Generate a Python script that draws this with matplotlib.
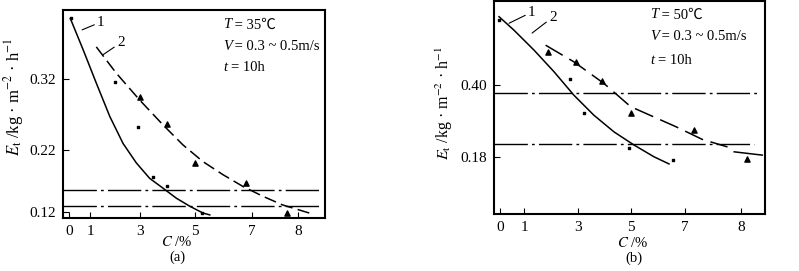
import numpy as np
import matplotlib
matplotlib.use("Agg")
import matplotlib.pyplot as plt

plt.rcParams['font.family'] = ['Liberation Serif', 'Noto Sans CJK SC', 'DejaVu Sans']
plt.rcParams['mathtext.fontset'] = 'stix'

# ---- данные, панель (a): T = 35 C ----
a_c1 = [0.06, 0.67, 1.25, 1.79, 2.32, 2.85, 3.35, 3.84, 4.32, 4.81, 5.28, 5.52]
a_e1 = [0.405, 0.361, 0.314, 0.267, 0.229, 0.199, 0.174, 0.158, 0.142, 0.129, 0.118, 0.115]
a_c2 = [1.25, 2.05, 2.99, 3.84, 4.56, 5.28, 5.98, 6.68, 7.24, 7.67, 8.25]
a_e2 = [0.365, 0.328, 0.290, 0.255, 0.227, 0.201, 0.180, 0.161, 0.145, 0.131, 0.118]
a_dot_c = [0.1, 2.0, 2.9, 3.47, 4.0, 5.25]
a_dot_e = [0.406, 0.316, 0.252, 0.176, 0.162, 0.118]
a_tri_c = [3.0, 3.98, 5.0, 6.8, 7.76]
a_tri_e = [0.295, 0.257, 0.199, 0.167, 0.118]
a_hlines = [0.155, 0.129]
a_yticks = [0.12, 0.22, 0.32]

# ---- данные, панель (b): T = 50 C ----
b_c1 = [-0.04, 0.58, 1.37, 2.11, 2.85, 3.60, 4.36, 5.11, 5.85, 6.41]
b_e1 = [0.609, 0.568, 0.507, 0.441, 0.369, 0.308, 0.257, 0.217, 0.181, 0.159]
b_c2 = [1.80, 2.85, 3.98, 4.99, 6.66, 7.31, 7.76]
b_e2 = [0.522, 0.471, 0.405, 0.334, 0.273, 0.234, 0.211]
b_c2_tail = [7.88, 8.38]
b_e2_tail = [0.196, 0.186]
b_dot_c = [-0.04, 2.7, 3.23, 4.92, 6.56]
b_dot_e = [0.60, 0.418, 0.314, 0.207, 0.17]
b_tri_c = [1.89, 2.93, 3.9, 5.0, 7.16, 8.1]
b_tri_e = [0.50, 0.47, 0.412, 0.314, 0.262, 0.174]
b_hlines = [0.375, 0.22]
b_yticks = [0.18, 0.40]

xticks = [0, 1, 3, 5, 7, 8]

W, H = 799, 271
fig = plt.figure(figsize=(W / 100, H / 100), dpi=100)


def make_scale(knots, pos):
    # неравномерная шкала, как на исходном рисунке
    def fwd(v):
        return np.interp(v, knots, pos)

    def inv(p):
        return np.interp(p, pos, knots)
    return fwd, inv


def px_axes(l, t, r, b):
    return fig.add_axes([l / W, 1 - b / H, (r - l) / W, (b - t) / H])


def cond_text(x, y, var, rest):
    # курсивная переменная + остальной текст
    fig.text(x / W, 1 - y / H, var, fontsize=10.5, style='italic', va='center')
    fig.text((x + 8) / W, 1 - y / H, rest, fontsize=10.5, va='center')


dash_dot = (0, (24, 3, 2, 3))
ylab = r'$E_\mathrm{t}$ /kg · m$^{-2}$ · h$^{-1}$'


def style_axes(ax, yticks, ylabels):
    for s in ax.spines.values():
        s.set_linewidth(1.5)
    ax.set_xticks(xticks)
    ax.set_xticklabels([str(v) for v in xticks])
    ax.set_yticks(yticks)
    ax.set_yticklabels(ylabels)
    ax.tick_params(direction='in', length=4, width=0.8, labelsize=11, pad=5)


# ---------- (a) ----------
ax1 = px_axes(63, 10, 325, 218)
ax1.set_xscale('function', functions=make_scale([-1, 0, 1, 3, 5, 7, 8, 10],
                                                 [48, 69, 90, 140, 195, 252, 298, 390]))
ax1.set_yscale('function', functions=make_scale([0.0, 0.12, 0.22, 0.32, 0.6],
                                                 [-286.4, -212, -150, -79, 119.8]))
ax1.set_xlim(-0.29, 8.59)
ax1.set_ylim(0.110, 0.417)
ax1.plot(a_c1, a_e1, color='black', lw=1.1)
ax1.plot(a_c2, a_e2, color='black', lw=1.1, linestyle=(0, (8, 3.5)))
for h in a_hlines:
    ax1.plot([-0.29, 8.48], [h, h], color='black', lw=1.0, linestyle=dash_dot)
ax1.scatter(a_dot_c, a_dot_e, s=4, marker='s', color='black')
ax1.scatter(a_tri_c, a_tri_e, s=14, marker='^', color='black')
ax1.annotate('1', xy=(0.62, 0.389), xytext=(1.28, 0.40), fontsize=11, va='center',
             arrowprops=dict(arrowstyle='-', color='black', lw=0.8, shrinkA=0, shrinkB=0))
ax1.annotate('2', xy=(1.52, 0.354), xytext=(2.08, 0.371), fontsize=11, va='center',
             arrowprops=dict(arrowstyle='-', color='black', lw=0.8, shrinkA=0, shrinkB=0))
style_axes(ax1, a_yticks, ['0.12', '0.22', '0.32'])

cond_text(223, 25, 'T', ' = 35℃')
cond_text(223, 47, 'V', ' = 0.3 ~ 0.5m/s')
cond_text(223, 68, 't', '= 10h')
fig.text(14 / W, 1 - 97 / H, ylab, fontsize=12, rotation=90, ha='center', va='center')
fig.text(177 / W, 1 - 242 / H, '$C$ /%', fontsize=10.5, ha='center', va='center')
fig.text(177 / W, 1 - 257 / H, '(a)', fontsize=10.5, ha='center', va='center')

# ---------- (b) ----------
ax2 = px_axes(494, 1, 765, 214)
ax2.set_xscale('function', functions=make_scale([-1, 0, 1, 3, 5, 7, 8, 10],
                                                 [476, 500, 524, 578, 631, 685, 741, 853]))
ax2.set_xlim(-0.25, 8.43)
ax2.set_ylim(0.006, 0.657)
ax2.plot(b_c1, b_e1, color='black', lw=1.1)
ax2.plot(b_c2, b_e2, color='black', lw=1.1, linestyle=(0, (13, 5)))
ax2.plot(b_c2_tail, b_e2_tail, color='black', lw=1.1)
ax2.plot([-0.25, 8.32], [b_hlines[0]] * 2, color='black', lw=1.0, linestyle=dash_dot)
ax2.plot([-0.25, 8.23], [b_hlines[1]] * 2, color='black', lw=1.0, linestyle=dash_dot)
ax2.scatter(b_dot_c, b_dot_e, s=4, marker='s', color='black')
ax2.scatter(b_tri_c, b_tri_e, s=14, marker='^', color='black')
ax2.annotate('1', xy=(0.375, 0.589), xytext=(1.15, 0.623), fontsize=11, va='center',
             arrowprops=dict(arrowstyle='-', color='black', lw=0.8, shrinkA=0, shrinkB=0))
ax2.annotate('2', xy=(1.30, 0.559), xytext=(1.93, 0.608), fontsize=11, va='center',
             arrowprops=dict(arrowstyle='-', color='black', lw=0.8, shrinkA=0, shrinkB=0))
style_axes(ax2, b_yticks, ['0.18', '0.40'])

cond_text(650, 15, 'T', ' = 50℃')
cond_text(650, 37, 'V', ' = 0.3 ~ 0.5m/s')
cond_text(650, 60, 't', '= 10h')
fig.text(444 / W, 1 - 103 / H, ylab, fontsize=11.5, rotation=90, ha='center', va='center')
fig.text(633 / W, 1 - 243 / H, '$C$ /%', fontsize=10.5, ha='center', va='center')
fig.text(634 / W, 1 - 258 / H, '(b)', fontsize=10.5, ha='center', va='center')

fig.savefig('out.png', dpi=100)
